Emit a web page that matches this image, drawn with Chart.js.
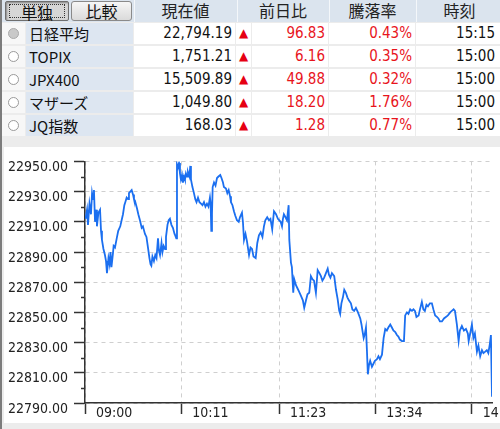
<!DOCTYPE html>
<html><head><meta charset="utf-8">
<script src="https://cdn.jsdelivr.net/npm/chart.js@4"></script>
<style>
html,body{margin:0;padding:0;width:500px;height:429px;overflow:hidden;background:#ececec;}
#wrap{position:absolute;left:0;top:0;width:500px;height:429px;border-left:2px solid #7c7c7c;box-sizing:border-box;background:#ececec;}
.cell{position:absolute;box-sizing:border-box;white-space:nowrap;overflow:hidden;}
.hd{background:#dbe4ee;color:#222;font:16px "Noto Sans CJK JP",sans-serif;text-align:center;line-height:21px;}
.nm{background:#dde6f1;color:#111;font:15px "Noto Sans CJK JP",sans-serif;line-height:21px;padding-left:3px;}
.rd{background:#f7f7f7;}
.num{background:#fff;color:#111;font:15px "DejaVu Sans Condensed","Liberation Sans Narrow","Liberation Sans",sans-serif;text-align:right;line-height:21px;padding-right:3px;}
.red{color:#e8141c;}
.tri{background:#fff;color:#e60012;font:12px "DejaVu Sans",sans-serif;text-align:center;line-height:21px;}
.radio{position:absolute;width:9px;height:9px;border-radius:50%;border:1px solid #9a9a9a;background:#fff;}
.radio.sel{background:#c9c9c9;border-color:#aaa;}
.btn{position:absolute;top:1px;height:20px;box-sizing:border-box;font:16px "Noto Sans CJK JP",sans-serif;text-align:center;line-height:18px;color:#111;}
#chartbox{position:absolute;left:2px;top:147px;width:498px;height:276px;background:#fff;}
</style></head>
<body>
<div id="wrap">
  <div id="table"></div>
  <div id="chartbox"><canvas id="c" width="498" height="276"></canvas></div>
</div>
<script>
// ---- table data ----
const headerLabels = ['現在値', '前日比', '騰落率', '時刻'];
const buttonLabels = ['単独', '比較'];
const indexNames = ['日経平均', 'TOPIX', 'JPX400', 'マザーズ', 'JQ指数'];
const currentValues = ['22,794.19', '1,751.21', '15,509.89', '1,049.80', '168.03'];
const dayChanges = ['96.83', '6.16', '49.88', '18.20', '1.28'];
const changeRates = ['0.43%', '0.35%', '0.32%', '1.76%', '0.77%'];
const quoteTimes = ['15:15', '15:00', '15:00', '15:00', '15:00'];

// ---- chart data (trading minutes since 09:00, lunch break removed) ----
const minutes = [0.4,1.5,2.2,3.3,4.4,5.2,5.9,6.6,7.4,8.5,8.8,9.9,11.1,11.8,12.5,13.6,14.7,15.5,16.2,17.3,18.1,18.8,19.5,20.6,21.1,22.1,23.6,24.5,26.0,27.0,28.0,29.0,29.7,30.7,31.7,32.4,33.4,34.4,35.4,36.1,36.8,38.3,39.3,40.5,41.8,42.7,44.2,45.3,46.4,47.5,48.3,48.9,49.7,50.8,51.8,52.7,53.8,54.5,55.3,56.4,57.1,58.0,59.0,59.7,60.8,61.7,62.6,63.7,64.8,66.0,66.5,67.3,67.8,68.5,69.3,70.0,70.7,71.5,72.2,73.0,73.7,74.4,75.2,75.9,77.0,77.6,78.1,79.2,80.3,81.3,82.2,83.3,84.4,85.5,86.6,87.7,88.8,89.9,91.0,92.1,92.6,93.1,93.6,94.1,95.1,96.2,97.3,98.4,99.7,100.6,101.7,102.4,103.9,104.9,105.9,106.9,107.6,108.7,109.8,110.8,112.0,113.3,114.2,115.7,116.4,117.2,118.3,119.4,120.9,122.0,123.1,124.2,125.8,127.0,128.2,129.5,130.8,131.9,132.9,134.3,135.6,136.7,138.0,139.3,140.8,142.2,144.2,145.2,145.9,146.6,147.8,148.9,150.1,150.6,151.8,152.5,153.5,154.2,155.5,156.6,157.7,159.2,160.6,161.6,162.9,164.0,165.3,166.5,167.6,168.8,170.2,171.5,172.8,173.9,175.0,176.3,177.6,178.9,179.8,180.9,182.0,183.7,185.0,186.2,187.4,188.1,189.0,190.1,191.1,192.3,193.4,194.5,196.0,197.1,198.4,199.7,201.2,202.9,203.8,204.5,205.4,206.3,207.1,207.8,208.5,209.3,210.2,211.5,212.6,213.7,215.2,216.3,217.4,218.9,220.1,221.3,222.5,223.6,225.0,226.2,227.3,228.7,229.9,231.0,232.1,233.6,235.1,236.0,237.3,238.4,239.7,241.0,242.1,243.2,244.3,245.9,246.9,248.3,249.4,250.5,251.7,252.8,254.2,255.7,256.8,258.1,259.4,260.5,261.6,263.1,264.6,266.0,267.5,269.2,270.4,271.7,272.7,274.1,275.4,276.3,277.8,279.3,280.8,282.2,282.8,283.7,285.2,286.3,287.4,288.9,290.0,291.3,292.6,293.7,295.0,296.2,297.3,298.4,299.2,300];
const prices = [22912,22918,22908,22922,22915,22929,22925,22931,22910,22918,22907,22916,22918,22904,22898,22892,22888,22884,22876,22886,22882,22890,22880,22889,22894,22893,22900,22904,22907,22911,22915,22921,22923,22926,22925,22929,22930,22931,22928,22925,22924,22919,22915,22911,22906,22907,22902,22900,22893,22886,22882,22881,22887,22884,22888,22886,22899,22891,22888,22896,22890,22894,22892,22900,22908,22911,22912,22908,22906,22902,22901,22899,22948,22946,22949,22942,22938,22941,22936,22940,22938,22942,22940,22943,22940,22947,22938,22933,22929,22925,22923,22926,22923,22922,22921,22923,22920,22922,22920,22926,22922,22904,22915,22933,22936,22934,22939,22940,22941,22939,22936,22933,22932,22929,22931,22927,22923,22921,22917,22914,22911,22910,22913,22916,22910,22898,22902,22897,22888,22893,22892,22887,22886,22896,22901,22903,22900,22907,22911,22913,22911,22912,22905,22917,22915,22912,22910,22907,22912,22915,22913,22911,22921,22898,22883,22880,22863,22872,22868,22866,22864,22861,22858,22853,22858,22862,22863,22874,22872,22871,22863,22878,22876,22874,22871,22873,22876,22879,22875,22873,22876,22874,22865,22859,22851,22849,22856,22860,22865,22863,22860,22858,22856,22852,22851,22853,22850,22846,22842,22838,22833,22836,22840,22825,22809,22815,22818,22814,22816,22818,22819,22821,22819,22822,22833,22839,22838,22840,22842,22840,22838,22837,22835,22834,22832,22831,22831,22848,22850,22849,22852,22851,22852,22851,22847,22848,22852,22857,22852,22851,22855,22854,22856,22856,22852,22848,22847,22846,22844,22844,22846,22847,22848,22850,22851,22852,22851,22842,22831,22838,22841,22838,22839,22836,22831,22835,22842,22833,22836,22824,22828,22821,22825,22823,22824,22825,22823,22829,22835,22794.19];
const xTickMinutes = [0, 71, 143, 214, 285];
const xTickLabels = ['09:00', '10:11', '11:23', '13:34', '14:45'];
const yMin = 22790, yMax = 22950, yStep = 20;

// ---- build table ----
const T = document.getElementById('table');
function cell(cls, x, y, w, h, html) {
  const d = document.createElement('div');
  d.className = 'cell ' + cls;
  d.style.left = x + 'px'; d.style.top = y + 'px'; d.style.width = w + 'px'; d.style.height = h + 'px';
  d.innerHTML = html || '';
  T.appendChild(d);
  return d;
}
cell('hd', 0, 0, 500, 22, '');
const b1 = document.createElement('div');
b1.className = 'btn';
b1.style.cssText += 'left:3px;width:64px;background:#d6d6d6;border:1px solid #6e6e6e;border-radius:2px;box-shadow:inset 1px 1px 2px #888;';
b1.innerHTML = '<div style="position:absolute;left:3px;top:2px;right:3px;bottom:2px;border:1px dotted #333;line-height:14px;">' + buttonLabels[0] + '</div>';
T.appendChild(b1);
const b2 = document.createElement('div');
b2.className = 'btn';
b2.style.cssText += 'left:69px;width:61px;background:linear-gradient(#f6f6f6,#dadada);border:1px solid #8a8a8a;border-radius:3px;';
b2.textContent = buttonLabels[1];
T.appendChild(b2);
const hdCols = [[132, 102], [235, 91], [327, 86], [414, 86]];
headerLabels.forEach((h, i) => {
  const c = cell('hd', hdCols[i][0], 0, hdCols[i][1], 22, h);
  c.style.borderLeft = '1px solid #f4f7fa';
});
indexNames.forEach((n, i) => {
  const y = 23 + i * 23;
  cell('rd', 0, y, 23, 21, '');
  const r = document.createElement('div');
  r.className = 'radio' + (i === 0 ? ' sel' : '');
  r.style.left = '6px'; r.style.top = (y + 5) + 'px';
  T.appendChild(r);
  cell('nm', 24, y, 107, 21, n);
  cell('num', 132, y, 101, 21, currentValues[i]);
  cell('tri', 234, y, 15, 21, '▲');
  cell('num red', 250, y, 76, 21, dayChanges[i]);
  cell('num red', 327, y, 86, 21, changeRates[i]);
  const tc = cell('num', 414, y, 86, 21, quoteTimes[i]);
  tc.style.paddingRight = '7px';
});

// ---- chart ----
const minorTicks = {
  id: 'minorTicks',
  afterDraw(chart) {
    const s = chart.scales.y, ctx = chart.ctx;
    ctx.save();
    ctx.strokeStyle = '#333'; ctx.lineWidth = 1.5;
    for (let v = yMin + yStep / 2; v < yMax; v += yStep) {
      const py = Math.round(s.getPixelForValue(v)) + 0.5;
      ctx.beginPath(); ctx.moveTo(s.right - 4, py); ctx.lineTo(s.right, py); ctx.stroke();
    }
    ctx.restore();
  }
};
const axisFont = { family: '"DejaVu Sans Condensed","Liberation Sans Narrow","Liberation Sans",sans-serif', size: 14 };
new Chart(document.getElementById('c'), {
  type: 'line',
  data: {
    datasets: [{
      data: minutes.map((m, i) => ({ x: m, y: prices[i] })),
      borderColor: '#1b6ff0',
      borderWidth: 1.8,
      pointRadius: 0,
      tension: 0,
      fill: false
    }]
  },
  options: {
    responsive: false,
    animation: false,
    devicePixelRatio: 1,
    layout: { autoPadding: false, padding: { top: 9, right: 10, bottom: 0, left: 0 } },
    plugins: { legend: { display: false }, tooltip: { enabled: false } },
    scales: {
      x: {
        type: 'linear', min: 0, max: 300,
        afterBuildTicks: (s) => { s.ticks = xTickMinutes.map(v => ({ value: v })); },
        afterFit: (s) => { s.height = 20; },
        border: { color: '#333', width: 1.5, dash: [4, 4] },
        grid: { color: '#cfcfcf', lineWidth: 1, tickColor: '#333', tickLength: 11, tickWidth: 1.5, tickBorderDash: [] },
        ticks: {
          autoSkip: false, maxRotation: 0, align: 'start', labelOffset: 11, padding: -9,
          color: '#222', font: axisFont,
          callback: (v) => { const i = xTickMinutes.indexOf(v); return i >= 0 ? xTickLabels[i] : ''; }
        }
      },
      y: {
        min: yMin, max: yMax,
        afterBuildTicks: (s) => { const t = []; for (let v = yMin; v <= yMax; v += yStep) t.push({ value: v }); s.ticks = t; },
        afterFit: (s) => { s.width = 81; },
        border: { color: '#333', width: 1.5, dash: [4, 4] },
        grid: { color: '#cfcfcf', lineWidth: 1, tickColor: '#333', tickLength: 11, tickWidth: 1.5, tickBorderDash: [] },
        ticks: {
          padding: 6, labelOffset: 6, color: '#222', font: axisFont,
          callback: (v) => v.toFixed(2)
        }
      }
    }
  },
  plugins: [minorTicks]
});
</script>
</body></html>
